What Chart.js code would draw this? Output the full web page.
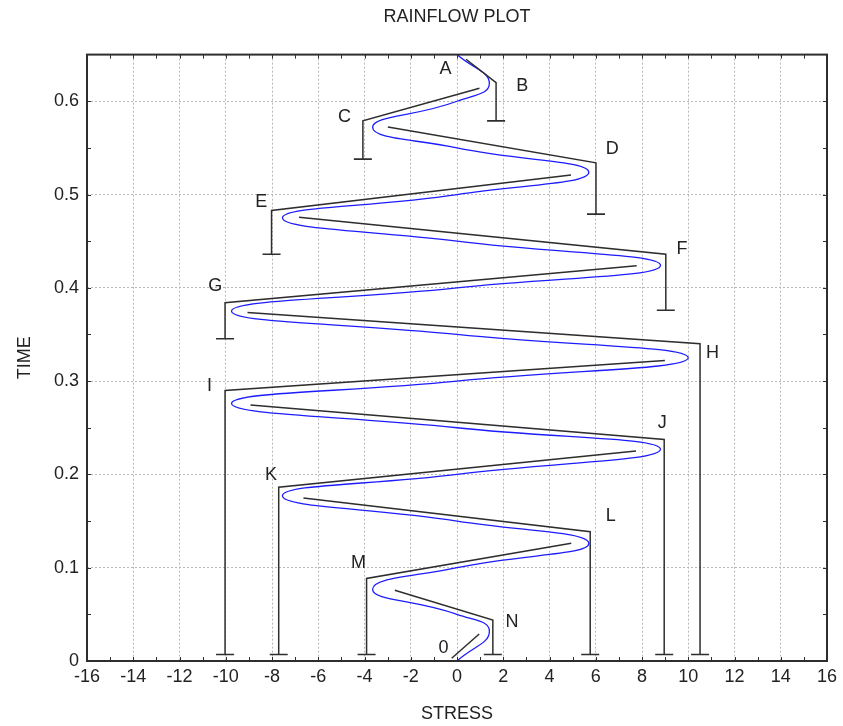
<!DOCTYPE html>
<html><head><meta charset="utf-8">
<script src="https://cdn.jsdelivr.net/npm/chart.js@4.4.0/dist/chart.umd.min.js"></script>
<style>html,body{margin:0;padding:0;background:#fff;} #wrap{width:843px;height:726px;}</style>
</head><body><div id="wrap"><canvas id="c"></canvas></div>
<script>
// ---- data ----
const signalTime   = [0, 0.032, 0.050, 0.077, 0.100, 0.126, 0.150, 0.177, 0.200, 0.227, 0.250, 0.276, 0.300, 0.325, 0.350, 0.375, 0.400, 0.424, 0.450, 0.475, 0.500, 0.524, 0.550, 0.572, 0.600, 0.619, 0.650];
const signalStress = [0, 1.40, 0, -3.65, 0, 5.70, 0, -7.55, 0, 8.80, 0, -9.75, 0, 10.0, 0, -9.75, 0, 8.80, 0, -7.55, 0, 5.70, 0, -3.65, 0, 1.40, 0];

const cornerNames  = ['B', 'C', 'D', 'E', 'F', 'G', 'H', 'I', 'J', 'K', 'L', 'M', 'N'];
const cornerStress = [1.69, -4.07, 6.01, -8.02, 9.03, -10.03, 10.51, -10.03, 8.96, -7.71, 5.76, -3.91, 1.55];
const cornerTime   = [0.620, 0.579, 0.534, 0.483, 0.436, 0.384, 0.340, 0.290, 0.2374, 0.1863, 0.1385, 0.0885, 0.044];
const flowEndStress = [0.39, 0.97, -2.99, 4.93, -6.83, 7.77, -9.06, 8.99, -8.93, 7.74, -6.64, 4.94, -2.69];
const flowEndTime   = [0.645, 0.614, 0.5725, 0.521, 0.4756, 0.4237, 0.3735, 0.3222, 0.2745, 0.2252, 0.1748, 0.1263, 0.0759];
const dropTime      = [0.579, 0.538, 0.479, 0.436, 0.376, 0.3455, 0.007, 0.007, 0.007, 0.007, 0.007, 0.007, 0.007];

const startFlowStress = [-0.23, 0.96];
const startFlowTime   = [0.003, 0.029];

const labelText   = ['A', 'B', 'C', 'D', 'E', 'F', 'G', 'H', 'I', 'J', 'K', 'L', 'M', 'N', '0'];
const labelStress = [-0.50, 2.82, -4.86, 6.71, -8.47, 9.73, -10.45, 11.05, -10.70, 8.88, -8.04, 6.65, -4.26, 2.38, -0.58];
const labelTime   = [0.6346, 0.616, 0.5832, 0.5489, 0.4918, 0.4416, 0.4022, 0.3305, 0.2946, 0.2555, 0.1996, 0.1558, 0.1054, 0.0422, 0.0142];

const xMin = -16, xMax = 16, yMin = 0, yMax = 0.65;

// ---- build datasets ----
const FONT = 'Liberation Sans, Arial, Helvetica, sans-serif';
const BLACK = '#2e2e2e';
const datasets = [];
datasets.push({
  data: signalTime.map((t, i) => ({x: signalStress[i], y: t})),
  showLine: true, tension: 0.5, borderColor: '#1c1cff', borderWidth: 1.3,
  pointRadius: 0, order: 2
});
cornerNames.forEach((n, i) => {
  datasets.push({
    data: [
      {x: flowEndStress[i], y: flowEndTime[i]},
      {x: cornerStress[i], y: cornerTime[i]},
      {x: cornerStress[i], y: dropTime[i]}
    ],
    showLine: true, tension: 0, borderColor: BLACK, borderWidth: 1.5,
    pointStyle: 'line', pointRadius: ctx => ctx.dataIndex === 2 ? 9 : 0,
    pointBorderColor: BLACK, pointBorderWidth: 1.6, pointHoverRadius: 0, order: 1
  });
});
datasets.push({
  data: startFlowStress.map((s, i) => ({x: s, y: startFlowTime[i]})),
  showLine: true, borderColor: BLACK, borderWidth: 1.5, pointRadius: 0, order: 1
});

const gridColor = '#b8b8b8';
const framePlugin = {
  id: 'frame',
  afterDatasetsDraw(chart) {
    const {ctx, chartArea: a, scales: {x, y}} = chart;
    ctx.save();
    ctx.strokeStyle = BLACK;
    ctx.lineWidth = 1;
    const L = 4;
    ctx.beginPath();
    x.ticks.forEach(t => {
      if (t.value <= xMin || t.value >= xMax) return;
      const px = Math.round(x.getPixelForValue(t.value)) + 0.5;
      ctx.moveTo(px, a.bottom); ctx.lineTo(px, a.bottom - L);
      ctx.moveTo(px, a.top); ctx.lineTo(px, a.top + L);
    });
    y.ticks.forEach(t => {
      if (t.value <= yMin + 1e-9 || t.value >= yMax - 1e-9) return;
      const py = Math.round(y.getPixelForValue(t.value)) + 0.5;
      ctx.moveTo(a.left, py); ctx.lineTo(a.left + L, py);
      ctx.moveTo(a.right, py); ctx.lineTo(a.right - L, py);
    });
    ctx.stroke();
    ctx.lineWidth = 2;
    ctx.strokeRect(a.left, a.top, a.right - a.left, a.bottom - a.top);
    // point labels
    ctx.fillStyle = '#222';
    ctx.font = '18px ' + FONT;
    ctx.textAlign = 'center';
    ctx.textBaseline = 'middle';
    labelText.forEach((s, i) => {
      ctx.fillText(s, x.getPixelForValue(labelStress[i]), y.getPixelForValue(labelTime[i]));
    });
    ctx.restore();
  }
};

new Chart(document.getElementById('c'), {
  type: 'scatter',
  data: {datasets},
  options: {
    responsive: true, maintainAspectRatio: false, animation: false,
    events: [],
    layout: {padding: {left: 0, right: 16, top: 0, bottom: 0}},
    plugins: {
      legend: {display: false},
      tooltip: {enabled: false},
      title: {
        display: true, text: 'RAINFLOW PLOT', fullSize: false, color: '#222',
        font: {family: FONT, size: 18, weight: 'normal'},
        padding: {top: 6, bottom: 27}
      }
    },
    scales: {
      x: {
        type: 'linear', min: xMin, max: xMax,
        afterFit: s => { s.height = 65; },
        ticks: {
          stepSize: 1, autoSkip: false, maxRotation: 0, color: '#222', padding: 5,
          font: {family: FONT, size: 18},
          callback: v => (Math.round(v) % 2 === 0 ? String(Math.round(v)) : '')
        },
        grid: {
          drawTicks: false, lineWidth: 1,
          color: c => (c.tick && Math.round(c.tick.value) % 2 === 0 && c.tick.value > xMin && c.tick.value < xMax) ? gridColor : 'rgba(0,0,0,0)'
        },
        border: {display: false, dash: [2, 2]},
        title: {display: true, text: 'STRESS', color: '#222', font: {family: FONT, size: 18}, padding: {top: 0, bottom: 1}}
      },
      y: {
        type: 'linear', min: yMin, max: yMax,
        afterFit: s => { s.width = 87; },
        ticks: {
          stepSize: 0.05, autoSkip: false, color: '#222', padding: 8,
          font: {family: FONT, size: 18},
          callback: v => { const k = Math.round(v * 100); return k % 10 === 0 ? (k === 0 ? '0' : (k / 100).toFixed(1)) : ''; }
        },
        grid: {
          drawTicks: false, lineWidth: 1,
          color: c => { if (!c.tick) return 'rgba(0,0,0,0)'; const k = Math.round(c.tick.value * 100); return (k % 10 === 0 && k > 0 && k < 65) ? gridColor : 'rgba(0,0,0,0)'; }
        },
        border: {display: false, dash: [2, 2]},
        title: {display: true, text: 'TIME', color: '#222', font: {family: FONT, size: 18}, padding: {top: 14}}
      }
    }
  },
  plugins: [framePlugin]
});
</script>
</body></html>
